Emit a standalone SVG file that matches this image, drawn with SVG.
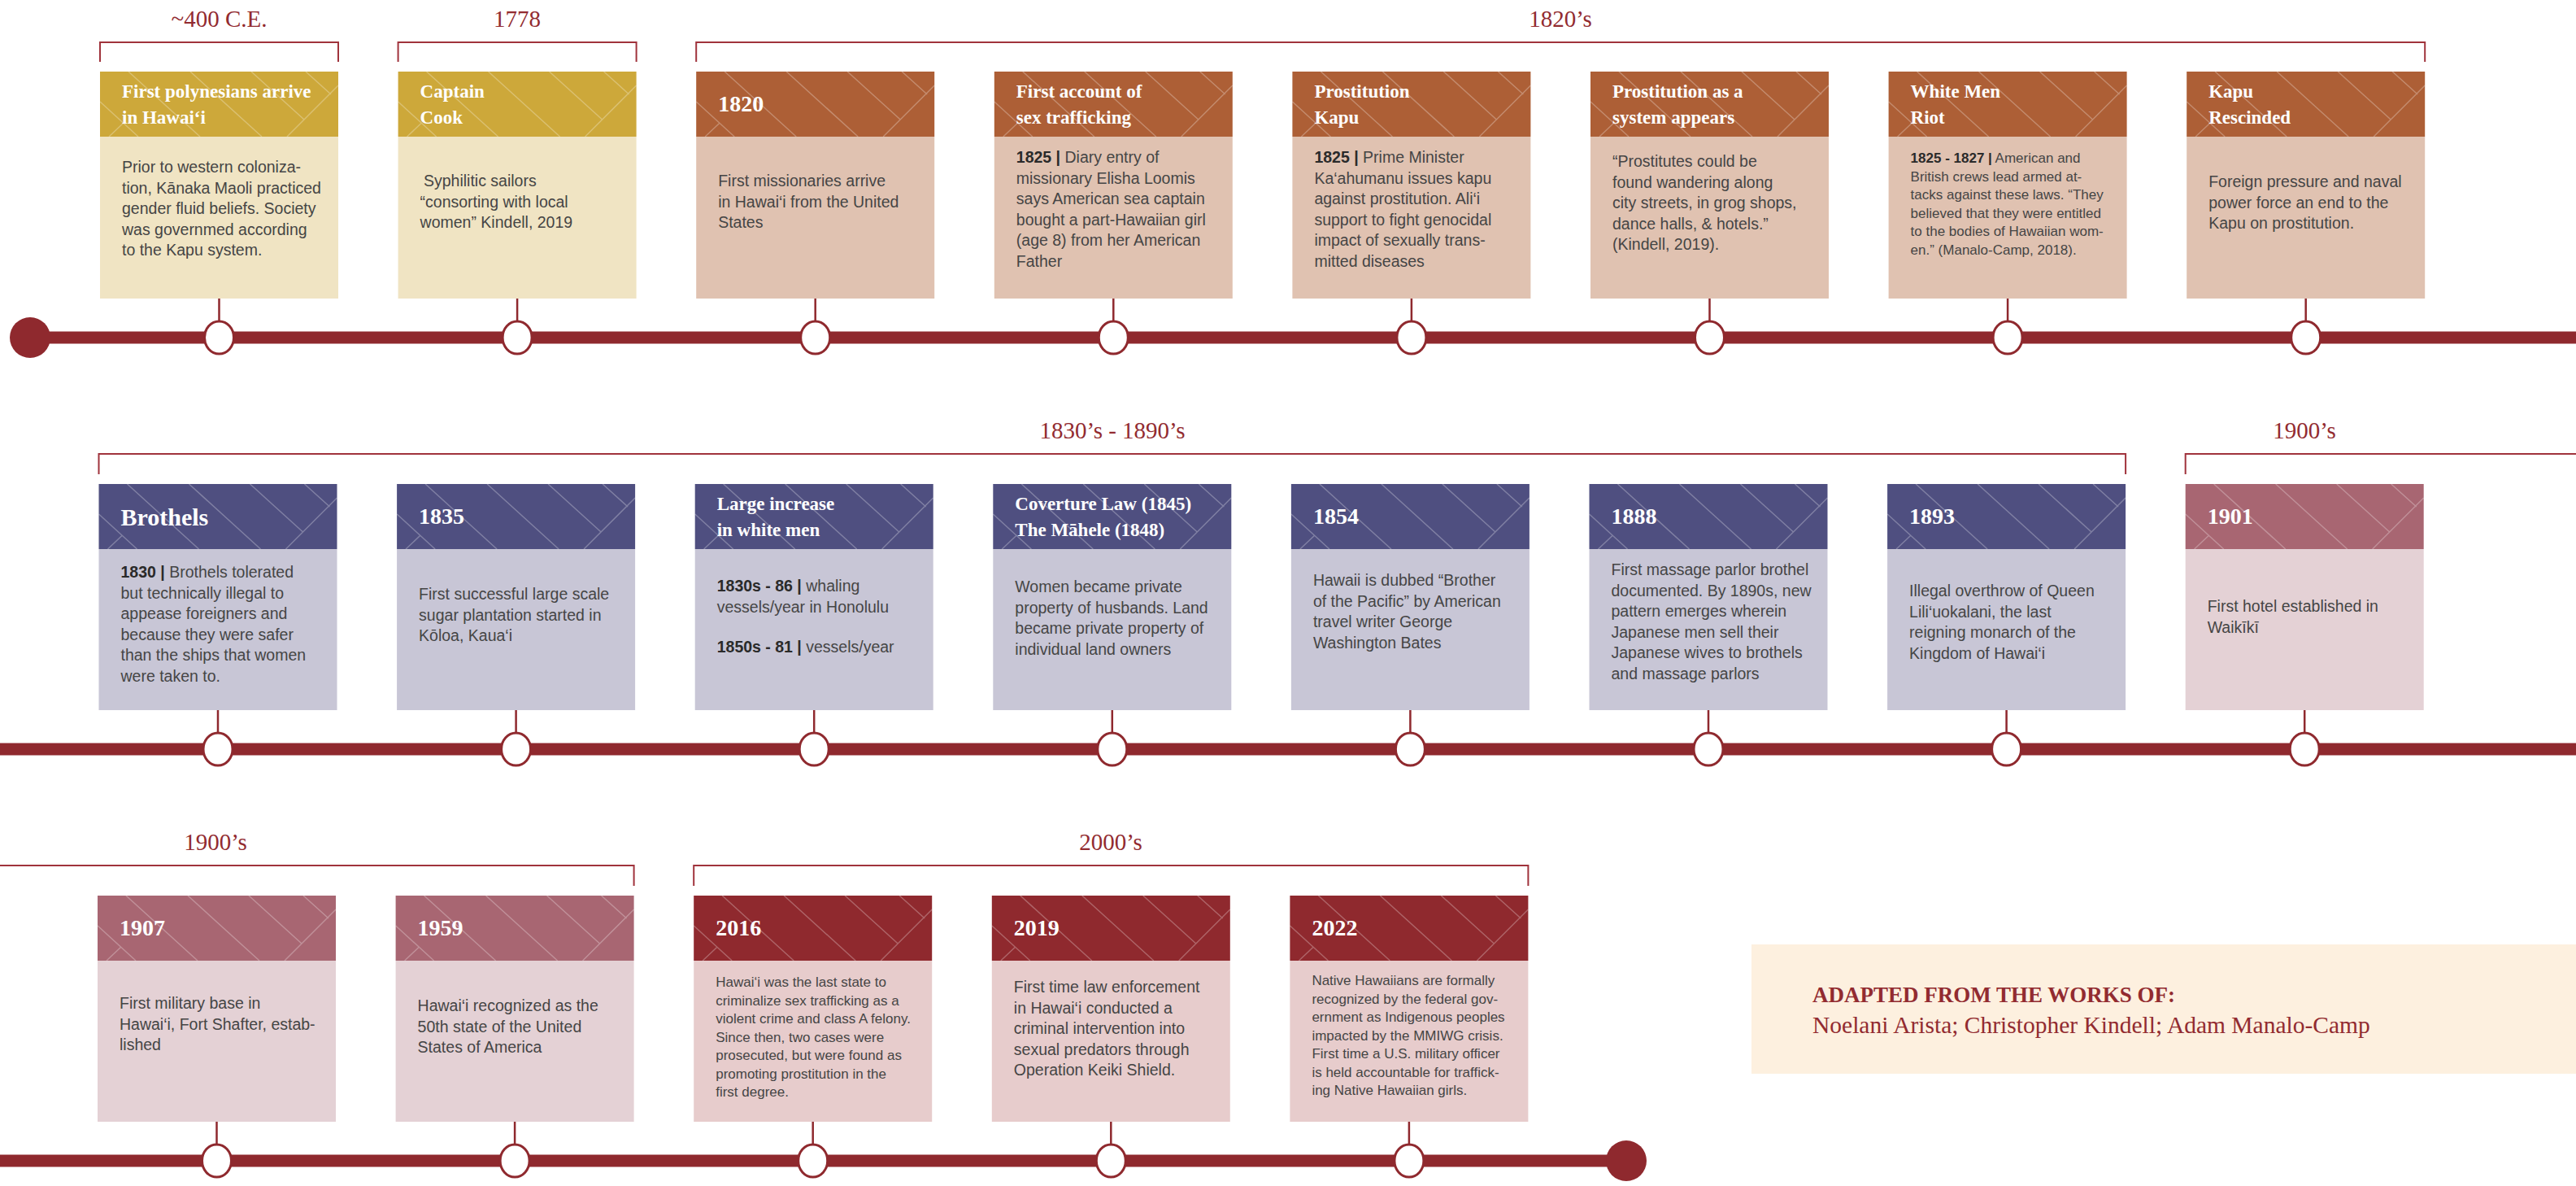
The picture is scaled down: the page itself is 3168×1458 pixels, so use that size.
<svg xmlns="http://www.w3.org/2000/svg" xmlns:xlink="http://www.w3.org/1999/xlink" width="3168" height="1458" viewBox="0 0 3168 1458">
<style>
.hd-gold{fill:#cda83a}.bd-gold{fill:#f0e4c3}
.hd-rust{fill:#ad5f36}.bd-rust{fill:#e0c2b1}
.hd-pur{fill:#4f4f80}.bd-pur{fill:#c8c6d6}
.hd-mauve{fill:#a86672}.bd-mauve{fill:#e4d1d5}
.hd-red{fill:#8f292e}.bd-red{fill:#e7cccc}
.ttl{font-family:"Liberation Serif",serif;font-weight:700;fill:#fff;font-size:23px}
.yr{font-size:28px}
.big{font-size:30px}
.body{font-family:"Liberation Sans",sans-serif;font-size:19.5px;fill:#454545}
.sm{font-size:17px}
.b{font-weight:700;fill:#2a2a2a}
.per{font-family:"Liberation Serif",serif;font-size:29px;fill:#922b30;text-anchor:middle}
.brk{fill:none;stroke:#a0333c;stroke-width:2}
.rail{stroke:#8f292e;stroke-width:15}
.conn{stroke:#8f292e;stroke-width:2.5}
.node{fill:#fff;stroke:#8f292e;stroke-width:3}
.end{fill:#8f292e}
.hatch{fill:none;stroke:#fff;stroke-opacity:.28;stroke-width:1.5}
.attr-bg{fill:#fdf0df}
.attr1{font-family:"Liberation Serif",serif;font-weight:700;font-size:27px;fill:#922b30}
.attr2{font-family:"Liberation Serif",serif;font-size:29.5px;fill:#922b30}
</style>
<defs>
<path id="hatch" class="hatch" d="M35,0 L123,80 M111,0 L199,80 M186,0 L251,59 M253,0 L284,28 M230,80 L293,17 M0,37 L47,80 M11,80 L29,63"/>
</defs>
<rect width="3168" height="1458" fill="#fff"/>

<g id="periods">
<text class="per" x="269.5" y="33">~400 C.E.</text>
<path class="brk" d="M123,76 V52 H416 V76"/>
<text class="per" x="636" y="33">1778</text>
<path class="brk" d="M489.6,76 V52 H782.6 V76"/>
<text class="per" x="1919" y="33">1820’s</text>
<path class="brk" d="M856.2,76 V52 H2982.2 V76"/>
<text class="per" x="1368" y="539">1830’s - 1890’s</text>
<path class="brk" d="M121.5,583 V558 H2614.1 V583"/>
<text class="per" x="2834" y="539">1900’s</text>
<path class="brk" d="M2687.7,583 V558 H3180"/>
<text class="per" x="265" y="1045">1900’s</text>
<path class="brk" d="M-10,1064 H779.6 V1089"/>
<text class="per" x="1366" y="1045">2000’s</text>
<path class="brk" d="M853.2,1089 V1064 H1879.4 V1089"/>
</g>

<g id="connectors">
<line class="rail" x1="37" y1="415" x2="3168" y2="415"/>
<line class="rail" x1="0" y1="921" x2="3168" y2="921"/>
<line class="rail" x1="0" y1="1427" x2="2000" y2="1427"/>
<circle class="end" cx="37" cy="415" r="25"/>
<circle class="end" cx="2000" cy="1427" r="25"/>
<path class="conn" d="M269.5,367V396M636.1,367V396M1002.7,367V396M1369.3,367V396M1735.9,367V396M2102.5,367V396M2469.1,367V396M2835.7,367V396"/>
<path class="conn" d="M268,873V902M634.6,873V902M1001.2,873V902M1367.8,873V902M1734.4,873V902M2101,873V902M2467.6,873V902M2834.2,873V902"/>
<path class="conn" d="M266.5,1379V1408M633.1,1379V1408M999.7,1379V1408M1366.3,1379V1408M1732.9,1379V1408"/>
<ellipse class="node" cx="269.5" cy="415" rx="18" ry="20"/>
<ellipse class="node" cx="636.1" cy="415" rx="18" ry="20"/>
<ellipse class="node" cx="1002.7" cy="415" rx="18" ry="20"/>
<ellipse class="node" cx="1369.3" cy="415" rx="18" ry="20"/>
<ellipse class="node" cx="1735.9" cy="415" rx="18" ry="20"/>
<ellipse class="node" cx="2102.5" cy="415" rx="18" ry="20"/>
<ellipse class="node" cx="2469.1" cy="415" rx="18" ry="20"/>
<ellipse class="node" cx="2835.7" cy="415" rx="18" ry="20"/>
<ellipse class="node" cx="268" cy="921" rx="18" ry="20"/>
<ellipse class="node" cx="634.6" cy="921" rx="18" ry="20"/>
<ellipse class="node" cx="1001.2" cy="921" rx="18" ry="20"/>
<ellipse class="node" cx="1367.8" cy="921" rx="18" ry="20"/>
<ellipse class="node" cx="1734.4" cy="921" rx="18" ry="20"/>
<ellipse class="node" cx="2101" cy="921" rx="18" ry="20"/>
<ellipse class="node" cx="2467.6" cy="921" rx="18" ry="20"/>
<ellipse class="node" cx="2834.2" cy="921" rx="18" ry="20"/>
<ellipse class="node" cx="266.5" cy="1427" rx="18" ry="20"/>
<ellipse class="node" cx="633.1" cy="1427" rx="18" ry="20"/>
<ellipse class="node" cx="999.7" cy="1427" rx="18" ry="20"/>
<ellipse class="node" cx="1366.3" cy="1427" rx="18" ry="20"/>
<ellipse class="node" cx="1732.9" cy="1427" rx="18" ry="20"/>
</g>

<!-- Row 1 -->
<g id="n-400ce">
<rect class="hd-gold" x="123" y="88" width="293" height="80"/>
<rect class="bd-gold" x="123" y="168" width="293" height="199"/>
<use xlink:href="#hatch" href="#hatch" x="123" y="88"/>
<text class="ttl"><tspan x="150" y="120">First polynesians arrive</tspan><tspan x="150" y="152">in Hawai‘i</tspan></text>
<text class="body"><tspan x="150" y="212">Prior to western coloniza-</tspan><tspan x="150" y="237.5">tion, Kānaka Maoli practiced</tspan><tspan x="150" y="263">gender fluid beliefs. Society</tspan><tspan x="150" y="288.5">was governmed according</tspan><tspan x="150" y="314">to the Kapu system.</tspan></text>
</g>
<g id="n-1778">
<rect class="hd-gold" x="489.6" y="88" width="293" height="80"/>
<rect class="bd-gold" x="489.6" y="168" width="293" height="199"/>
<use xlink:href="#hatch" href="#hatch" x="489.6" y="88"/>
<text class="ttl"><tspan x="516.6" y="120">Captain</tspan><tspan x="516.6" y="152">Cook</tspan></text>
<text class="body"><tspan x="521" y="229">Syphilitic sailors</tspan><tspan x="516.6" y="254.5">“consorting with local</tspan><tspan x="516.6" y="280">women”  Kindell, 2019</tspan></text>
</g>
<g id="n-1820">
<rect class="hd-rust" x="856.2" y="88" width="293" height="80"/>
<rect class="bd-rust" x="856.2" y="168" width="293" height="199"/>
<use xlink:href="#hatch" href="#hatch" x="856.2" y="88"/>
<text class="ttl yr" x="883.2" y="137">1820</text>
<text class="body"><tspan x="883.2" y="229">First missionaries arrive</tspan><tspan x="883.2" y="254.5">in Hawai‘i from the United</tspan><tspan x="883.2" y="280">States</tspan></text>
</g>
<g id="n-first-account">
<rect class="hd-rust" x="1222.8" y="88" width="293" height="80"/>
<rect class="bd-rust" x="1222.8" y="168" width="293" height="199"/>
<use xlink:href="#hatch" href="#hatch" x="1222.8" y="88"/>
<text class="ttl"><tspan x="1249.8" y="120">First account of</tspan><tspan x="1249.8" y="152">sex trafficking</tspan></text>
<text class="body"><tspan x="1249.8" y="200"><tspan class="b">1825 |</tspan> Diary entry of</tspan><tspan x="1249.8" y="225.5">missionary Elisha Loomis</tspan><tspan x="1249.8" y="251">says American sea captain</tspan><tspan x="1249.8" y="276.5">bought a part-Hawaiian girl</tspan><tspan x="1249.8" y="302">(age 8) from her American</tspan><tspan x="1249.8" y="327.5">Father</tspan></text>
</g>
<g id="n-prostitution-kapu">
<rect class="hd-rust" x="1589.4" y="88" width="293" height="80"/>
<rect class="bd-rust" x="1589.4" y="168" width="293" height="199"/>
<use xlink:href="#hatch" href="#hatch" x="1589.4" y="88"/>
<text class="ttl"><tspan x="1616.4" y="120">Prostitution</tspan><tspan x="1616.4" y="152">Kapu</tspan></text>
<text class="body"><tspan x="1616.4" y="200"><tspan class="b">1825 |</tspan> Prime Minister</tspan><tspan x="1616.4" y="225.5">Ka‘ahumanu issues kapu</tspan><tspan x="1616.4" y="251">against prostitution. Ali‘i</tspan><tspan x="1616.4" y="276.5">support to fight genocidal</tspan><tspan x="1616.4" y="302">impact of sexually trans-</tspan><tspan x="1616.4" y="327.5">mitted diseases</tspan></text>
</g>
<g id="n-prostitution-system">
<rect class="hd-rust" x="1956" y="88" width="293" height="80"/>
<rect class="bd-rust" x="1956" y="168" width="293" height="199"/>
<use xlink:href="#hatch" href="#hatch" x="1956" y="88"/>
<text class="ttl"><tspan x="1983" y="120">Prostitution as a</tspan><tspan x="1983" y="152">system appears</tspan></text>
<text class="body"><tspan x="1983" y="205">“Prostitutes could be</tspan><tspan x="1983" y="230.5">found wandering along</tspan><tspan x="1983" y="256">city streets, in grog shops,</tspan><tspan x="1983" y="281.5">dance halls, &amp; hotels.”</tspan><tspan x="1983" y="307">(Kindell, 2019).</tspan></text>
</g>
<g id="n-white-men-riot">
<rect class="hd-rust" x="2322.6" y="88" width="293" height="80"/>
<rect class="bd-rust" x="2322.6" y="168" width="293" height="199"/>
<use xlink:href="#hatch" href="#hatch" x="2322.6" y="88"/>
<text class="ttl"><tspan x="2349.6" y="120">White Men</tspan><tspan x="2349.6" y="152">Riot</tspan></text>
<text class="body sm"><tspan x="2349.6" y="200"><tspan class="b">1825 - 1827 |</tspan> American and</tspan><tspan x="2349.6" y="222.6">British crews lead armed at-</tspan><tspan x="2349.6" y="245.2">tacks against these laws. “They</tspan><tspan x="2349.6" y="267.8">believed that they were entitled</tspan><tspan x="2349.6" y="290.4">to the bodies of Hawaiian wom-</tspan><tspan x="2349.6" y="313">en.” (Manalo-Camp, 2018).</tspan></text>
</g>
<g id="n-kapu-rescinded">
<rect class="hd-rust" x="2689.2" y="88" width="293" height="80"/>
<rect class="bd-rust" x="2689.2" y="168" width="293" height="199"/>
<use xlink:href="#hatch" href="#hatch" x="2689.2" y="88"/>
<text class="ttl"><tspan x="2716.2" y="120">Kapu</tspan><tspan x="2716.2" y="152">Rescinded</tspan></text>
<text class="body"><tspan x="2716.2" y="230">Foreign pressure and naval</tspan><tspan x="2716.2" y="255.5">power force an end to the</tspan><tspan x="2716.2" y="281">Kapu on prostitution.</tspan></text>
</g>

<!-- Row 2 -->
<g id="n-brothels">
<rect class="hd-pur" x="121.5" y="595" width="293" height="80"/>
<rect class="bd-pur" x="121.5" y="675" width="293" height="198"/>
<use xlink:href="#hatch" href="#hatch" x="121.5" y="595"/>
<text class="ttl big" x="148.5" y="646">Brothels</text>
<text class="body"><tspan x="148.5" y="710"><tspan class="b">1830 |</tspan> Brothels tolerated</tspan><tspan x="148.5" y="735.5">but technically illegal to</tspan><tspan x="148.5" y="761">appease foreigners and</tspan><tspan x="148.5" y="786.5">because they were safer</tspan><tspan x="148.5" y="812">than the ships that women</tspan><tspan x="148.5" y="837.5">were taken to.</tspan></text>
</g>
<g id="n-1835">
<rect class="hd-pur" x="488.1" y="595" width="293" height="80"/>
<rect class="bd-pur" x="488.1" y="675" width="293" height="198"/>
<use xlink:href="#hatch" href="#hatch" x="488.1" y="595"/>
<text class="ttl yr" x="515.1" y="644">1835</text>
<text class="body"><tspan x="515.1" y="737">First successful large scale</tspan><tspan x="515.1" y="762.5">sugar plantation started in</tspan><tspan x="515.1" y="788">Kōloa, Kaua‘i</tspan></text>
</g>
<g id="n-white-men">
<rect class="hd-pur" x="854.7" y="595" width="293" height="80"/>
<rect class="bd-pur" x="854.7" y="675" width="293" height="198"/>
<use xlink:href="#hatch" href="#hatch" x="854.7" y="595"/>
<text class="ttl"><tspan x="881.7" y="627">Large increase</tspan><tspan x="881.7" y="659">in white men</tspan></text>
<text class="body"><tspan x="881.7" y="727"><tspan class="b">1830s - 86 |</tspan> whaling</tspan><tspan x="881.7" y="752.5">vessels/year in Honolulu</tspan><tspan x="881.7" y="802"><tspan class="b">1850s - 81 |</tspan> vessels/year</tspan></text>
</g>
<g id="n-coverture">
<rect class="hd-pur" x="1221.3" y="595" width="293" height="80"/>
<rect class="bd-pur" x="1221.3" y="675" width="293" height="198"/>
<use xlink:href="#hatch" href="#hatch" x="1221.3" y="595"/>
<text class="ttl"><tspan x="1248.3" y="627">Coverture Law (1845)</tspan><tspan x="1248.3" y="659">The Māhele (1848)</tspan></text>
<text class="body"><tspan x="1248.3" y="728">Women became private</tspan><tspan x="1248.3" y="753.5">property of husbands. Land</tspan><tspan x="1248.3" y="779">became private property of</tspan><tspan x="1248.3" y="804.5">individual land owners</tspan></text>
</g>
<g id="n-1854">
<rect class="hd-pur" x="1587.9" y="595" width="293" height="80"/>
<rect class="bd-pur" x="1587.9" y="675" width="293" height="198"/>
<use xlink:href="#hatch" href="#hatch" x="1587.9" y="595"/>
<text class="ttl yr" x="1614.9" y="644">1854</text>
<text class="body"><tspan x="1614.9" y="720">Hawaii is dubbed “Brother</tspan><tspan x="1614.9" y="745.5">of the Pacific” by American</tspan><tspan x="1614.9" y="771">travel writer George</tspan><tspan x="1614.9" y="796.5">Washington Bates</tspan></text>
</g>
<g id="n-1888">
<rect class="hd-pur" x="1954.5" y="595" width="293" height="80"/>
<rect class="bd-pur" x="1954.5" y="675" width="293" height="198"/>
<use xlink:href="#hatch" href="#hatch" x="1954.5" y="595"/>
<text class="ttl yr" x="1981.5" y="644">1888</text>
<text class="body"><tspan x="1981.5" y="707">First massage parlor brothel</tspan><tspan x="1981.5" y="732.5">documented. By 1890s, new</tspan><tspan x="1981.5" y="758">pattern emerges wherein</tspan><tspan x="1981.5" y="783.5">Japanese men sell their</tspan><tspan x="1981.5" y="809">Japanese wives to brothels</tspan><tspan x="1981.5" y="834.5">and massage parlors</tspan></text>
</g>
<g id="n-1893">
<rect class="hd-pur" x="2321.1" y="595" width="293" height="80"/>
<rect class="bd-pur" x="2321.1" y="675" width="293" height="198"/>
<use xlink:href="#hatch" href="#hatch" x="2321.1" y="595"/>
<text class="ttl yr" x="2348.1" y="644">1893</text>
<text class="body"><tspan x="2348.1" y="733">Illegal overthrow of Queen</tspan><tspan x="2348.1" y="758.5">Lili‘uokalani, the last</tspan><tspan x="2348.1" y="784">reigning monarch of the</tspan><tspan x="2348.1" y="809.5">Kingdom of Hawai‘i</tspan></text>
</g>
<g id="n-1901">
<rect class="hd-mauve" x="2687.7" y="595" width="293" height="80"/>
<rect class="bd-mauve" x="2687.7" y="675" width="293" height="198"/>
<use xlink:href="#hatch" href="#hatch" x="2687.7" y="595"/>
<text class="ttl yr" x="2714.7" y="644">1901</text>
<text class="body"><tspan x="2714.7" y="752">First hotel established in</tspan><tspan x="2714.7" y="777.5">Waikīkī</tspan></text>
</g>

<!-- Row 3 -->
<g id="n-1907">
<rect class="hd-mauve" x="120" y="1101" width="293" height="80"/>
<rect class="bd-mauve" x="120" y="1181" width="293" height="198"/>
<use xlink:href="#hatch" href="#hatch" x="120" y="1101"/>
<text class="ttl yr" x="147" y="1150">1907</text>
<text class="body"><tspan x="147" y="1240">First military base in</tspan><tspan x="147" y="1265.5">Hawai‘i, Fort Shafter, estab-</tspan><tspan x="147" y="1291">lished</tspan></text>
</g>
<g id="n-1959">
<rect class="hd-mauve" x="486.6" y="1101" width="293" height="80"/>
<rect class="bd-mauve" x="486.6" y="1181" width="293" height="198"/>
<use xlink:href="#hatch" href="#hatch" x="486.6" y="1101"/>
<text class="ttl yr" x="513.6" y="1150">1959</text>
<text class="body"><tspan x="513.6" y="1243">Hawai‘i recognized as the</tspan><tspan x="513.6" y="1268.5">50th state of the United</tspan><tspan x="513.6" y="1294">States of America</tspan></text>
</g>
<g id="n-2016">
<rect class="hd-red" x="853.2" y="1101" width="293" height="80"/>
<rect class="bd-red" x="853.2" y="1181" width="293" height="198"/>
<use xlink:href="#hatch" href="#hatch" x="853.2" y="1101"/>
<text class="ttl yr" x="880.2" y="1150">2016</text>
<text class="body sm"><tspan x="880.2" y="1213">Hawai‘i was the last state to</tspan><tspan x="880.2" y="1235.5">criminalize sex trafficking as a</tspan><tspan x="880.2" y="1258">violent crime and class A felony.</tspan><tspan x="880.2" y="1280.5">Since then, two cases were</tspan><tspan x="880.2" y="1303">prosecuted, but were found as</tspan><tspan x="880.2" y="1325.5">promoting prostitution in the</tspan><tspan x="880.2" y="1348">first degree.</tspan></text>
</g>
<g id="n-2019">
<rect class="hd-red" x="1219.8" y="1101" width="293" height="80"/>
<rect class="bd-red" x="1219.8" y="1181" width="293" height="198"/>
<use xlink:href="#hatch" href="#hatch" x="1219.8" y="1101"/>
<text class="ttl yr" x="1246.8" y="1150">2019</text>
<text class="body"><tspan x="1246.8" y="1220">First time law enforcement</tspan><tspan x="1246.8" y="1245.5">in Hawai‘i conducted a</tspan><tspan x="1246.8" y="1271">criminal intervention into</tspan><tspan x="1246.8" y="1296.5">sexual predators through</tspan><tspan x="1246.8" y="1322">Operation Keiki Shield.</tspan></text>
</g>
<g id="n-2022">
<rect class="hd-red" x="1586.4" y="1101" width="293" height="80"/>
<rect class="bd-red" x="1586.4" y="1181" width="293" height="198"/>
<use xlink:href="#hatch" href="#hatch" x="1586.4" y="1101"/>
<text class="ttl yr" x="1613.4" y="1150">2022</text>
<text class="body sm"><tspan x="1613.4" y="1211">Native Hawaiians are formally</tspan><tspan x="1613.4" y="1233.5">recognized by the federal gov-</tspan><tspan x="1613.4" y="1256">ernment as Indigenous peoples</tspan><tspan x="1613.4" y="1278.5">impacted by the MMIWG crisis.</tspan><tspan x="1613.4" y="1301">First time a U.S. military officer</tspan><tspan x="1613.4" y="1323.5">is held accountable for traffick-</tspan><tspan x="1613.4" y="1346">ing Native Hawaiian girls.</tspan></text>
</g>

<g id="attribution">
<rect class="attr-bg" x="2154" y="1161" width="1014" height="159"/>
<text class="attr1" x="2229" y="1232">ADAPTED FROM THE WORKS OF:</text>
<text class="attr2" x="2229" y="1270">Noelani Arista; Christopher Kindell; Adam Manalo-Camp</text>
</g>
</svg>
